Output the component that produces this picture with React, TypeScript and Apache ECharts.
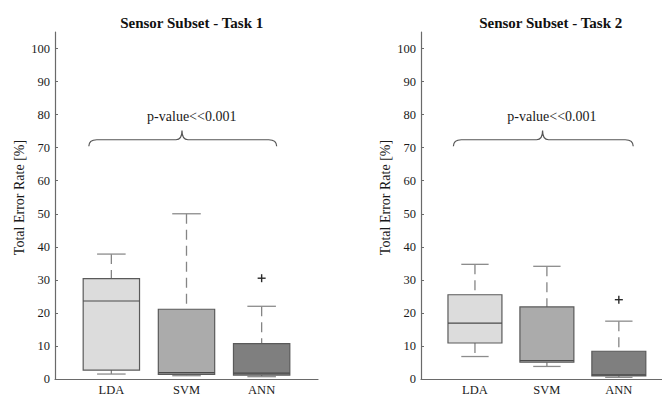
import React, { useEffect, useRef } from "react";
import * as echarts from "echarts";

const categories = ["LDA", "SVM", "ANN"];
const positions = [1, 2, 3];

const task1Min = [1.5, 1.0, 0.7];
const task1Q1 = [2.7, 1.4, 1.2];
const task1Median = [23.6, 1.9, 1.8];
const task1Q3 = [30.4, 21.1, 10.7];
const task1Max = [37.8, 50.0, 22.0];
const task1Outliers = [[3, 30.5]];

const task2Min = [6.8, 3.8, 0.5];
const task2Q1 = [10.9, 5.1, 0.95];
const task2Median = [16.9, 5.6, 1.25];
const task2Q3 = [25.5, 21.8, 8.4];
const task2Max = [34.7, 34.1, 17.5];
const task2Outliers = [[3, 24.0]];

const yTicks = [0, 10, 20, 30, 40, 50, 60, 70, 80, 90, 100];
const titles = ["Sensor Subset - Task 1", "Sensor Subset - Task 2"];
const pValueText = "p-value<<0.001";
// brace annotation: [xStart, xEnd, xPeak, yEnd, yLine, yPeak, xText, yText]
const braceSpec = [0.7, 3.2, 1.94, 70.4, 72.4, 75.2, 2.07, 79.5];

const fills = ["#dcdcdc", "#ababab", "#7f7f7f"];
const FONT = '"Liberation Serif", "Times New Roman", serif';
const TEXT = "#1a1a1a";

function boxData(mn: number[], q1: number[], md: number[], q3: number[], mx: number[]) {
  return positions.map((p, i) => [p, mn[i], q1[i], md[i], q3[i], mx[i], i]);
}

const renderBox = (params: any, api: any) => {
  const x = api.value(0);
  const mn = api.value(1);
  const q1 = api.value(2);
  const md = api.value(3);
  const q3 = api.value(4);
  const mx = api.value(5);
  const ci = api.value(6);
  const half = 0.375;
  const capHalf = 0.19;
  const tl = api.coord([x - half, q3]);
  const br = api.coord([x + half, q1]);
  const m0 = api.coord([x - half, md]);
  const m1 = api.coord([x + half, md]);
  const wq3 = api.coord([x, q3]);
  const wmx = api.coord([x, mx]);
  const wq1 = api.coord([x, q1]);
  const wmn = api.coord([x, mn]);
  const c0 = api.coord([x - capHalf, mx]);
  const c1 = api.coord([x + capHalf, mx]);
  const d0 = api.coord([x - capHalf, mn]);
  const d1 = api.coord([x + capHalf, mn]);
  const whiskerStyle = { stroke: "#858585", lineWidth: 1.3, lineDash: [10, 6] };
  const capStyle = { stroke: "#8c8c8c", lineWidth: 1.3 };
  return {
    type: "group",
    children: [
      { type: "line", shape: { x1: wmx[0], y1: wmx[1], x2: wq3[0], y2: wq3[1] }, style: whiskerStyle },
      { type: "line", shape: { x1: wq1[0], y1: wq1[1], x2: wmn[0], y2: wmn[1] }, style: whiskerStyle },
      {
        type: "rect",
        shape: { x: tl[0], y: tl[1], width: br[0] - tl[0], height: br[1] - tl[1] },
        style: { fill: fills[ci], stroke: "#5a5a5a", lineWidth: 1.2 },
      },
      { type: "line", shape: { x1: m0[0], y1: m0[1], x2: m1[0], y2: m1[1] }, style: { stroke: "#4a4a4a", lineWidth: 1.2 } },
      { type: "line", shape: { x1: c0[0], y1: c0[1], x2: c1[0], y2: c1[1] }, style: capStyle },
      { type: "line", shape: { x1: d0[0], y1: d0[1], x2: d1[0], y2: d1[1] }, style: capStyle },
    ],
  };
};

const renderOutlier = (params: any, api: any) => {
  const p = api.coord([api.value(0), api.value(1)]);
  const s = 4;
  const st = { stroke: "#2a2a2a", lineWidth: 1.4 };
  return {
    type: "group",
    children: [
      { type: "line", shape: { x1: p[0] - s, y1: p[1], x2: p[0] + s, y2: p[1] }, style: st },
      { type: "line", shape: { x1: p[0], y1: p[1] - s, x2: p[0], y2: p[1] + s }, style: st },
    ],
  };
};

const renderBrace = (params: any, api: any) => {
  const a = api.coord([api.value(0), api.value(3)]);
  const b = api.coord([api.value(1), api.value(3)]);
  const line = api.coord([api.value(2), api.value(4)]);
  const peak = api.coord([api.value(2), api.value(5)]);
  const txt = api.coord([api.value(6), api.value(7)]);
  const yl = line[1];
  const r1 = 8;
  const r2 = 6;
  const d =
    `M${a[0]},${a[1]} Q${a[0]},${yl} ${a[0] + r1},${yl} ` +
    `L${peak[0] - r2},${yl} Q${peak[0]},${yl} ${peak[0]},${peak[1]} ` +
    `Q${peak[0]},${yl} ${peak[0] + r2},${yl} ` +
    `L${b[0] - r1},${yl} Q${b[0]},${yl} ${b[0]},${b[1]}`;
  return {
    type: "group",
    children: [
      { type: "path", shape: { pathData: d }, style: { stroke: "#555", lineWidth: 1.2, fill: "none" } },
      {
        type: "text",
        style: {
          text: pValueText,
          x: txt[0],
          y: txt[1],
          align: "center",
          verticalAlign: "middle",
          textAlign: "center",
          textVerticalAlign: "middle",
          fontSize: 14,
          fontFamily: FONT,
          fill: TEXT,
        },
      },
    ],
  };
};

export default function App() {
  const ref = useRef<HTMLDivElement>(null);
  useEffect(() => {
    if (!ref.current) return;
    const chart = echarts.init(ref.current, undefined, { renderer: "svg" });
    const mkX = (gi: number, max: number) => ({
      type: "value",
      gridIndex: gi,
      min: 0.25,
      max,
      splitLine: { show: false },
      axisLine: { lineStyle: { color: "#6a6a6a", width: 1.2 } },
      axisTick: { show: false },
      axisLabel: {
        customValues: positions,
        formatter: (v: number) => categories[Math.round(v) - 1] ?? "",
        fontSize: 12.5,
        fontFamily: FONT,
        color: TEXT,
        margin: 4,
      },
    });
    const mkY = (gi: number) => ({
      type: "value",
      gridIndex: gi,
      min: 0,
      max: 105,
      splitLine: { show: false },
      axisLine: { show: true, lineStyle: { color: "#6a6a6a", width: 1.2 } },
      axisTick: { show: true, inside: true, length: 3, customValues: yTicks, lineStyle: { color: "#6a6a6a" } },
      axisLabel: { customValues: yTicks, fontSize: 12.5, fontFamily: FONT, color: TEXT, margin: 5 },
      name: "Total Error Rate [%]",
      nameLocation: "middle",
      nameRotate: 90,
      nameGap: 29,
      nameTextStyle: { fontSize: 14, fontFamily: FONT, color: TEXT, padding: [0, 0, 0, 16] },
    });
    const mkSeries = (gi: number, data: number[][], outliers: number[][]) => [
      {
        type: "custom",
        xAxisIndex: gi,
        yAxisIndex: gi,
        renderItem: renderBrace,
        data: [braceSpec],
        silent: true,
      },
      {
        type: "custom",
        xAxisIndex: gi,
        yAxisIndex: gi,
        renderItem: renderBox,
        data,
        silent: true,
      },
      {
        type: "custom",
        xAxisIndex: gi,
        yAxisIndex: gi,
        renderItem: renderOutlier,
        data: outliers,
        silent: true,
      },
    ];
    chart.setOption({
      animation: false,
      backgroundColor: "#ffffff",
      title: [
        {
          text: titles[0],
          left: 186.7,
          top: 10,
          textAlign: "center",
          textStyle: { fontSize: 15, fontWeight: "bold", fontFamily: FONT, color: "#111" },
        },
        {
          text: titles[1],
          left: 545.7,
          top: 10,
          textAlign: "center",
          textStyle: { fontSize: 15, fontWeight: "bold", fontFamily: FONT, color: "#111" },
        },
      ],
      grid: [
        { left: 55, top: 32, width: 263, height: 348.5 },
        { left: 421, top: 32, width: 241, height: 348.5 },
      ],
      xAxis: [mkX(0, 3.75), mkX(1, 3.6)],
      yAxis: [mkY(0), mkY(1)],
      series: [
        ...mkSeries(0, boxData(task1Min, task1Q1, task1Median, task1Q3, task1Max), task1Outliers),
        ...mkSeries(1, boxData(task2Min, task2Q1, task2Median, task2Q3, task2Max), task2Outliers),
      ],
    });
    return () => chart.dispose();
  }, []);
  return <div ref={ref} style={{ position: "fixed", left: 0, top: 0, width: 662, height: 396 }} />;
}
